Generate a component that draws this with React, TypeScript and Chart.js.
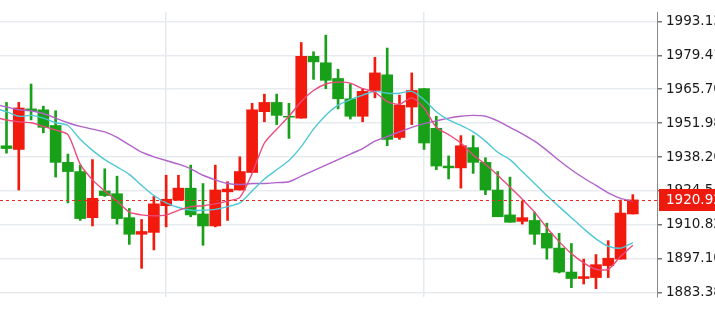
import React, { useEffect, useRef } from 'react';
import { Chart, registerables } from 'chart.js';

Chart.register(...registerables);

// ---- Data ----
const opens = [1942.81, 1941.32, 1957.72, 1957.35, 1951.01, 1936.10, 1932.38, 1913.74, 1924.55, 1923.43, 1913.74, 1907.03, 1907.78, 1918.57, 1920.82, 1925.67, 1915.23, 1910.39, 1924.18, 1924.92, 1932.00, 1956.60, 1960.33, 1954.74, 1953.99, 1978.97, 1976.36, 1970.02, 1961.82, 1954.74, 1965.17, 1971.51, 1946.16, 1958.47, 1965.92, 1949.89, 1934.61, 1933.87, 1942.06, 1936.10, 1924.92, 1914.86, 1912.25, 1912.62, 1907.40, 1901.44, 1891.75, 1889.14, 1889.52, 1894.36, 1896.97, 1915.23];
const closes = [1941.69, 1958.09, 1956.97, 1950.27, 1936.10, 1932.38, 1913.37, 1921.57, 1922.69, 1913.37, 1907.03, 1908.15, 1919.32, 1921.19, 1925.67, 1914.86, 1910.39, 1924.92, 1925.30, 1932.38, 1957.35, 1960.33, 1955.11, 1954.37, 1978.97, 1976.73, 1969.27, 1961.82, 1954.74, 1964.80, 1972.26, 1945.42, 1959.21, 1965.17, 1943.93, 1934.61, 1933.87, 1942.81, 1936.10, 1924.92, 1914.11, 1911.88, 1913.74, 1907.03, 1901.44, 1891.75, 1889.14, 1889.89, 1894.73, 1897.34, 1915.60, 1920.92];
const highs = [1960.33, 1960.33, 1967.78, 1958.84, 1956.97, 1939.46, 1934.99, 1937.22, 1933.50, 1930.52, 1917.46, 1912.99, 1922.31, 1930.89, 1930.89, 1934.99, 1927.53, 1934.99, 1928.28, 1938.34, 1959.96, 1963.68, 1963.68, 1959.96, 1984.56, 1980.83, 1987.54, 1973.75, 1967.78, 1965.92, 1978.59, 1982.32, 1963.31, 1972.26, 1965.92, 1954.74, 1938.71, 1946.91, 1946.91, 1937.97, 1932.38, 1930.14, 1920.45, 1915.97, 1911.50, 1907.40, 1903.30, 1896.97, 1898.83, 1904.42, 1920.82, 1923.06];
const lows = [1939.83, 1924.92, 1953.25, 1948.03, 1930.14, 1919.70, 1912.62, 1910.39, 1922.31, 1911.13, 1902.93, 1893.24, 1900.70, 1910.01, 1920.82, 1914.11, 1902.56, 1910.01, 1912.62, 1924.92, 1932.00, 1952.50, 1951.38, 1945.79, 1953.99, 1969.65, 1965.92, 1957.72, 1953.62, 1952.50, 1962.19, 1942.81, 1945.42, 1951.38, 1941.32, 1933.12, 1929.40, 1925.67, 1931.63, 1923.06, 1914.11, 1911.88, 1911.13, 1902.93, 1896.97, 1891.38, 1885.42, 1886.91, 1885.04, 1889.52, 1896.97, 1915.23];

// moving-average lines; first value belongs to the bar just left of the view
const maStart = -1;
const maFast = [1954.37, 1953.25, 1952.50, 1952.13, 1950.64, 1949.15, 1947.29, 1935.36, 1929.02, 1924.55, 1920.45, 1915.97, 1914.86, 1914.48, 1914.86, 1916.72, 1918.21, 1918.57, 1919.32, 1920.45, 1921.94, 1931.63, 1943.93, 1949.52, 1954.74, 1960.70, 1965.17, 1967.78, 1968.53, 1968.16, 1965.92, 1964.43, 1960.70, 1959.58, 1962.19, 1958.09, 1950.27, 1947.29, 1943.93, 1939.09, 1935.36, 1930.89, 1926.04, 1921.19, 1915.97, 1909.64, 1904.05, 1899.20, 1895.48, 1892.87, 1892.87, 1898.09, 1902.56];
const maMid = [1958.09, 1956.60, 1954.74, 1955.11, 1953.99, 1952.13, 1951.01, 1945.42, 1940.95, 1937.22, 1934.24, 1931.26, 1926.79, 1922.69, 1919.70, 1917.84, 1916.72, 1916.72, 1917.09, 1918.21, 1919.70, 1924.55, 1929.40, 1933.12, 1936.85, 1942.44, 1949.52, 1955.11, 1959.21, 1961.45, 1963.31, 1964.80, 1964.06, 1964.06, 1964.80, 1961.45, 1956.60, 1953.25, 1951.01, 1948.40, 1944.68, 1940.20, 1937.22, 1932.38, 1927.53, 1922.69, 1918.21, 1913.74, 1909.27, 1905.17, 1902.19, 1901.44, 1903.68];
const maSlow = [1959.58, 1958.47, 1957.35, 1956.97, 1955.86, 1953.99, 1952.13, 1950.64, 1949.52, 1948.40, 1946.16, 1943.19, 1940.20, 1938.34, 1936.85, 1935.36, 1933.50, 1930.89, 1929.02, 1927.53, 1927.16, 1927.53, 1927.53, 1927.90, 1928.28, 1930.52, 1932.75, 1934.99, 1937.22, 1939.46, 1941.69, 1944.68, 1946.54, 1948.40, 1950.27, 1951.76, 1952.87, 1953.99, 1954.74, 1955.11, 1954.74, 1952.87, 1950.27, 1947.66, 1944.68, 1940.95, 1936.85, 1933.12, 1929.77, 1926.79, 1923.80, 1921.57, 1920.45];

const yTickValues = [1883.38, 1897.10, 1910.82, 1924.54, 1938.26, 1951.98, 1965.70, 1979.41, 1993.13];
const verticalGridAt = [13, 34];
const yMin = 1881.70;
const yMax = 1996.86;
const xMin = -0.53;
const xMax = 52.97;

const RED = '#f2190d';
const GREEN = '#18a018';
const PINK = '#ea4a7c';
const CYAN = '#4fc8d6';
const PURPLE = '#b062c8';
const FONT = "'DejaVu Sans', sans-serif";

export default function App() {
  const ref = useRef<HTMLCanvasElement>(null);

  useEffect(() => {
    const canvas = ref.current;
    if (!canvas) return;
    const colors = opens.map((o, i) => (closes[i] >= o ? RED : GREEN));
    const lastClose = closes[closes.length - 1];

    const priceMarker = {
      id: 'priceMarker',
      afterDraw(chart: any) {
        const c = chart.ctx;
        const ys = chart.scales.y;
        const { left, right } = chart.chartArea;
        const y = ys.getPixelForValue(lastClose);
        const yy = Math.round(y) + 0.5;
        c.save();
        c.strokeStyle = '#e8281e';
        c.lineWidth = 1;
        c.setLineDash([3, 3]);
        c.beginPath();
        c.moveTo(left, yy);
        c.lineTo(right, yy);
        c.stroke();
        c.setLineDash([]);
        c.fillStyle = '#ee1a0e';
        c.fillRect(right + 2, Math.round(y) - 11, chart.width - right - 2, 22);
        c.fillStyle = '#ffffff';
        c.font = `13.5px ${FONT}`;
        c.textBaseline = 'middle';
        c.textAlign = 'left';
        c.fillText(lastClose.toFixed(2), right + 9, y + 1);
        c.restore();
      },
    };

    const lineDs = (label: string, vals: number[], color: string) => ({
      type: 'line' as const,
      label,
      data: vals.map((v, k) => ({ x: maStart + k, y: v })),
      borderColor: color,
      borderWidth: 1.4,
      pointRadius: 0,
      tension: 0.25,
      fill: false,
      order: 0,
    });

    const chart = new Chart(canvas, {
      type: 'bar',
      data: {
        datasets: [
          lineDs('MA5', maFast, PINK),
          lineDs('MA10', maMid, CYAN),
          lineDs('MA20', maSlow, PURPLE),
          {
            type: 'bar',
            label: 'body',
            data: opens.map((o, i) => ({ x: i, y: [o, closes[i]] })),
            backgroundColor: colors,
            barThickness: 11,
            grouped: false,
            order: 1,
          } as any,
          {
            type: 'bar',
            label: 'wick',
            data: lows.map((l, i) => ({ x: i, y: [l, highs[i]] })),
            backgroundColor: colors,
            barThickness: 2,
            grouped: false,
            order: 2,
          } as any,
        ],
      },
      options: {
        responsive: false,
        animation: false,
        devicePixelRatio: 1,
        layout: { padding: 0 },
        plugins: { legend: { display: false }, tooltip: { enabled: false } },
        scales: {
          x: {
            type: 'linear',
            min: xMin,
            max: xMax,
            offset: false,
            ticks: { display: false },
            grid: { color: '#e6eaee', lineWidth: 1.5, drawTicks: false, offset: false },
            border: { display: false },
            afterBuildTicks: (s: any) => {
              s.ticks = verticalGridAt.map((v) => ({ value: v }));
            },
          },
          y: {
            type: 'linear',
            position: 'right',
            min: yMin,
            max: yMax,
            afterBuildTicks: (s: any) => {
              s.ticks = yTickValues.map((v) => ({ value: v }));
            },
            afterFit: (s: any) => {
              s.width = 58;
            },
            ticks: {
              callback: (v: any) => Number(v).toFixed(2),
              font: { family: FONT, size: 13.5 },
              color: '#1a1a1a',
              padding: 4,
            },
            grid: { color: '#e7ebef', tickColor: '#777777', tickLength: 5, lineWidth: 1.5, offset: false },
            border: { color: '#8a8a8a', width: 1 },
          },
        },
      } as any,
      plugins: [priceMarker],
    });
    return () => chart.destroy();
  }, []);

  return (
    <div style={{ position: 'fixed', left: 0, top: 0, width: 715, height: 309, background: '#fff' }}>
      <canvas ref={ref} width={715} height={309} style={{ display: 'block' }} />
    </div>
  );
}
